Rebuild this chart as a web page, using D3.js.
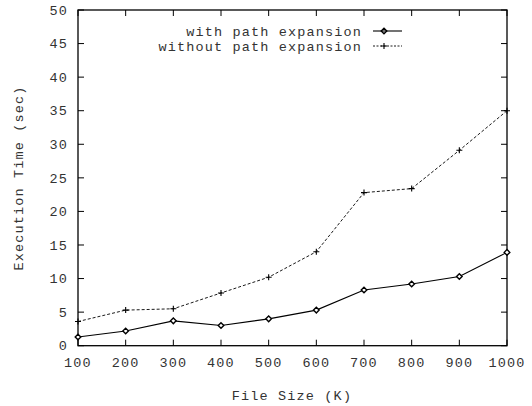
<!DOCTYPE html>
<html><head><meta charset="utf-8">
<script src="https://cdn.jsdelivr.net/npm/d3@7"></script>
<style>body{margin:0;background:#fff}svg{display:block}text{font-family:"Liberation Mono","DejaVu Sans Mono",monospace;fill:#333}</style>
</head><body><svg id="c" width="532" height="406"></svg>
<script>
const fileSizes = [100,200,300,400,500,600,700,800,900,1000];
const withExpansion = [1.3,2.2,3.7,3.0,4.0,5.3,8.3,9.2,10.3,13.9];
const withoutExpansion = [3.6,5.3,5.5,7.85,10.2,14.0,22.8,23.4,29.1,35.0];
const seriesNames = ["with path expansion","without path expansion"];
const yTicks = [0,5,10,15,20,25,30,35,40,45,50];
const xTicks = [100,200,300,400,500,600,700,800,900,1000];
const xTitle = "File Size (K)";
const yTitle = "Execution Time (sec)";

const svg = d3.select("#c");
const L=78, R=507, T=10, B=345.7;
const x = d3.scaleLinear().domain([100,1000]).range([L,R]);
const y = d3.scaleLinear().domain([0,50]).range([B,T]);
const fs = "13.5px", ls = "1.15px";

svg.append("rect").attr("x",L).attr("y",T).attr("width",R-L).attr("height",B-T)
  .attr("fill","none").attr("stroke","#000").attr("stroke-width",1.3);

const tl = 6;
yTicks.forEach(v=>{
  svg.append("line").attr("x1",L).attr("x2",L+tl).attr("y1",y(v)).attr("y2",y(v)).attr("stroke","#000");
  svg.append("line").attr("x1",R).attr("x2",R-tl).attr("y1",y(v)).attr("y2",y(v)).attr("stroke","#000");
  svg.append("text").attr("x",68).attr("y",y(v)).attr("dy","0.35em").attr("text-anchor","end")
    .style("font-size",fs).style("letter-spacing",ls).text(v);
});
xTicks.forEach(v=>{
  svg.append("line").attr("x1",x(v)).attr("x2",x(v)).attr("y1",B).attr("y2",B-tl).attr("stroke","#000");
  svg.append("line").attr("x1",x(v)).attr("x2",x(v)).attr("y1",T).attr("y2",T+tl).attr("stroke","#000");
  svg.append("text").attr("x",x(v)).attr("y",362.5).attr("dy","0.35em").attr("text-anchor","middle")
    .style("font-size",fs).style("letter-spacing",ls).text(v);
});
svg.append("text").attr("x",292).attr("y",395).attr("dy","0.35em").attr("text-anchor","middle")
  .style("font-size",fs).style("letter-spacing",ls).text(xTitle);
svg.append("text").attr("transform","translate(18,178) rotate(-90)").attr("dy","0.35em").attr("text-anchor","middle")
  .style("font-size",fs).style("letter-spacing",ls).text(yTitle);

const line = d3.line().x((d,i)=>x(fileSizes[i])).y(d=>y(d));
svg.append("path").datum(withoutExpansion).attr("d",line).attr("fill","none")
  .attr("stroke","#000").attr("stroke-width",0.9).attr("stroke-dasharray","3,2");
svg.append("path").datum(withExpansion).attr("d",line).attr("fill","none")
  .attr("stroke","#000").attr("stroke-width",1.1);

function diamond(g,cx,cy){
  g.append("path").attr("d",`M${cx},${cy-2.8}L${cx+2.8},${cy}L${cx},${cy+2.8}L${cx-2.8},${cy}Z`)
   .attr("fill","#fff").attr("stroke","#000").attr("stroke-width",1.4);
}
function plus(g,cx,cy){
  g.append("path").attr("d",`M${cx-3},${cy}H${cx+3}M${cx},${cy-3}V${cy+3}`)
   .attr("stroke","#000").attr("stroke-width",1.1);
}
const gm = svg.append("g");
withExpansion.forEach((v,i)=>diamond(gm,x(fileSizes[i]),y(v)));
withoutExpansion.forEach((v,i)=>plus(gm,x(fileSizes[i]),y(v)));

const ly = [31,46];
seriesNames.forEach((n,i)=>{
  svg.append("text").attr("x",362).attr("y",ly[i]).attr("dy","0.35em").attr("text-anchor","end")
    .style("font-size",fs).style("letter-spacing",ls).text(n);
  const ln = svg.append("line").attr("x1",373).attr("x2",402).attr("y1",ly[i]).attr("y2",ly[i]).attr("stroke","#000");
  if(i==0){ ln.attr("stroke-width",1.1); diamond(gm,384,ly[i]); }
  else { ln.attr("stroke-width",0.9).attr("stroke-dasharray","2,1.5"); plus(gm,384,ly[i]); }
});
</script></body></html>
